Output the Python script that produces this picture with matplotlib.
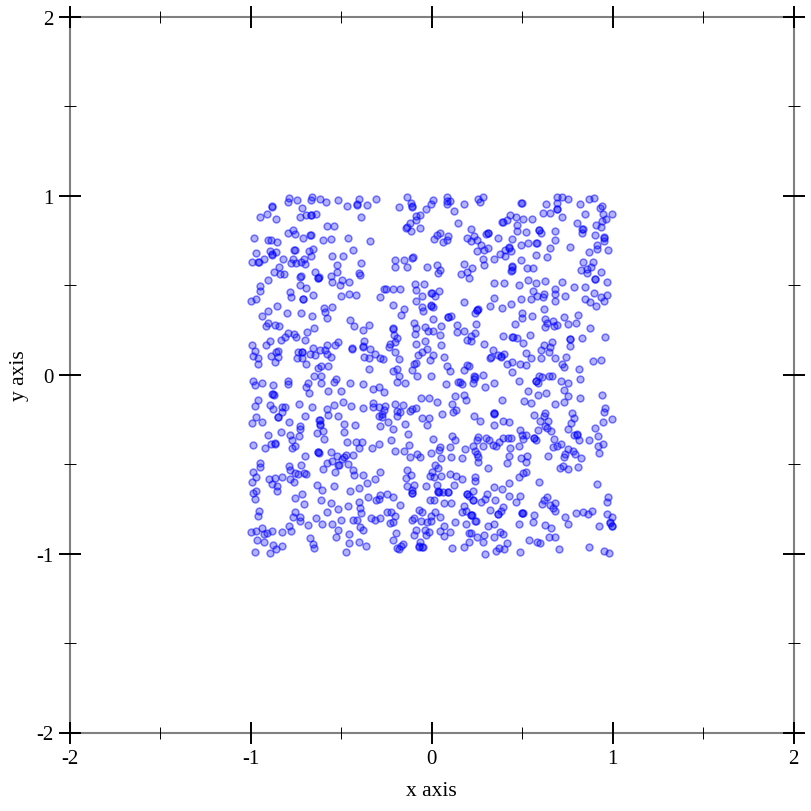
import matplotlib
matplotlib.use('Agg')
import matplotlib.pyplot as plt

# valores, por quadrante
pts_upper_left = [(-0.788,0.986),(-0.796,0.964),(-0.748,0.973),(-0.663,0.995),(-0.670,0.977),(-0.617,0.980),(-0.587,0.967),(-0.516,0.977),(-0.403,0.980),(-0.411,0.949),(-0.470,0.940),(-0.361,0.947),(-0.309,0.980),(-0.886,0.938),(-0.720,0.930),(-0.912,0.899),(-0.948,0.878),(-0.864,0.869),(-0.729,0.882),(-0.698,0.891),(-0.670,0.891),(-0.641,0.899),(-0.392,0.882),(-0.578,0.828),(-0.543,0.831),(-0.768,0.807),(-0.797,0.789),(-0.757,0.785),(-0.713,0.766),(-0.672,0.779),(-0.982,0.766),(-0.904,0.751),(-0.891,0.750),(-0.856,0.742),(-0.602,0.750),(-0.556,0.759),(-0.462,0.766),(-0.344,0.744),(-0.761,0.696),(-0.657,0.701),(-0.678,0.692),(-0.435,0.697),(-0.974,0.679),(-0.895,0.692),(-0.886,0.671),(-0.862,0.686),(-0.551,0.664),(-0.490,0.664),(-0.669,0.662),(-0.993,0.628),(-0.959,0.630),(-0.930,0.645),(-0.820,0.645),(-0.770,0.645),(-0.781,0.623),(-0.751,0.621),(-0.722,0.627),(-0.707,0.645),(-0.703,0.617),(-0.525,0.610),(-0.394,0.621),(-0.845,0.604),(-0.873,0.574),(-0.842,0.561),(-0.816,0.561),(-0.525,0.574),(-0.645,0.571),(-0.556,0.552),(-0.403,0.565),(-0.396,0.554),(-0.727,0.547),(-0.628,0.541),(-0.906,0.526),(-0.552,0.517),(-0.494,0.530),(-0.459,0.520),(-0.505,0.502),(-0.729,0.502),(-0.698,0.485),(-0.952,0.496),(-0.952,0.466),(-0.785,0.463),(-0.779,0.433),(-0.657,0.446),(-0.503,0.440),(-0.457,0.448),(-0.420,0.446),(-0.713,0.420),(-0.974,0.420),(-0.998,0.412),(-0.858,0.386),(-0.551,0.377),(-0.595,0.372),(-0.591,0.349),(-0.908,0.355),(-0.939,0.327),(-0.801,0.347),(-0.724,0.345),(-0.663,0.327),(-0.578,0.319),(-0.453,0.306),(-0.429,0.271),(-0.346,0.277),(-0.379,0.250),(-0.904,0.290),(-0.919,0.273),(-0.866,0.277),(-0.847,0.269),(-0.652,0.258),(-0.692,0.239),(-0.797,0.234),(-0.762,0.228),(-0.814,0.209),(-0.751,0.209),(-0.836,0.191),(-0.700,0.193),(-0.895,0.189),(-0.915,0.163),(-0.993,0.163),(-0.980,0.133),(-0.989,0.105),(-0.963,0.092),(-0.961,0.059),(-0.376,0.185),(-0.381,0.157),(-0.519,0.180),(-0.536,0.165),(-0.582,0.165),(-0.659,0.146),(-0.617,0.139),(-0.593,0.137),(-0.442,0.144),(-0.341,0.144),(-0.238,0.152),(-0.284,0.433),(-0.267,0.480),(-0.256,0.480),(-0.214,0.480),(-0.175,0.481),(-0.094,0.509),(-0.044,0.507),(-0.088,0.474),(-0.087,0.414),(-0.052,0.437),(-0.002,0.455),(-0.006,0.385),(-0.217,0.388),(-0.153,0.368),(-0.169,0.331),(-0.055,0.379),(-0.048,0.357),(-0.101,0.290),(-0.090,0.258),(-0.092,0.228),(-0.037,0.264),(-0.020,0.243),(-0.217,0.256),(-0.210,0.224),(-0.190,0.202),(-0.206,0.182),(-0.230,0.169),(-0.037,0.189),(-0.088,0.169),(-0.028,0.142),(-0.057,0.128),(-0.079,0.109),(-0.011,0.083),(-0.179,0.087),(-0.203,0.129),(-0.271,0.085),(-0.287,0.092),(-0.315,0.115),(-0.374,0.098),(-0.346,0.092),(-0.346,0.033),(-0.214,0.021),(-0.192,0.034),(-0.112,0.027),(-0.101,0.059),(-0.090,0.064),(-0.628,0.036),(-0.615,0.049),(-0.573,0.049),(-0.694,0.059),(-0.862,0.124),(-0.853,0.133),(-0.853,0.096),(-0.891,0.105),(-0.869,0.068),(-0.738,0.128),(-0.720,0.124),(-0.744,0.092),(-0.715,0.092),(-0.674,0.115),(-0.646,0.107),(-0.578,0.115),(-0.560,0.100),(-0.138,0.995),(-0.116,0.958),(-0.110,0.938),(-0.180,0.936),(-0.087,0.884),(-0.063,0.893),(-0.035,0.928),(-0.006,0.956),(-0.090,0.863),(-0.122,0.848),(-0.142,0.822),(-0.116,0.802),(-0.066,0.822),(-0.203,0.642),(-0.153,0.638),(-0.107,0.653),(-0.204,0.604),(-0.136,0.601),(-0.029,0.599)]

pts_upper_right = [(0.006,0.975),(0.081,0.990),(0.083,0.971),(0.083,0.953),(0.103,0.968),(0.177,0.954),(0.122,0.913),(0.256,0.984),(0.267,0.964),(0.285,0.993),(0.495,0.958),(0.689,0.990),(0.720,0.990),(0.750,0.979),(0.689,0.960),(0.632,0.953),(0.692,0.925),(0.615,0.904),(0.652,0.902),(0.720,0.878),(0.821,0.956),(0.866,0.982),(0.895,0.988),(0.932,0.930),(0.941,0.941),(0.845,0.897),(0.945,0.900),(0.994,0.897),(0.963,0.871),(0.943,0.856),(0.936,0.826),(0.906,0.837),(0.801,0.845),(0.832,0.813),(0.832,0.794),(0.145,0.845),(0.431,0.893),(0.466,0.878),(0.503,0.869),(0.551,0.871),(0.389,0.850),(0.416,0.863),(0.471,0.837),(0.214,0.813),(0.311,0.789),(0.298,0.785),(0.591,0.807),(0.606,0.789),(0.468,0.802),(0.523,0.798),(0.681,0.802),(0.044,0.789),(0.031,0.779),(0.013,0.757),(0.090,0.772),(0.081,0.751),(0.063,0.742),(0.197,0.761),(0.232,0.772),(0.219,0.744),(0.252,0.751),(0.366,0.766),(0.442,0.757),(0.904,0.779),(0.950,0.766),(0.950,0.748),(0.680,0.753),(0.274,0.727),(0.308,0.707),(0.247,0.690),(0.287,0.694),(0.495,0.725),(0.534,0.738),(0.578,0.733),(0.652,0.705),(0.762,0.712),(0.913,0.723),(0.915,0.701),(0.972,0.699),(0.871,0.684),(0.425,0.710),(0.403,0.697),(0.435,0.690),(0.379,0.675),(0.405,0.664),(0.575,0.668),(0.639,0.656),(0.284,0.647),(0.341,0.647),(0.289,0.610),(0.490,0.638),(0.175,0.617),(0.223,0.595),(0.029,0.610),(0.044,0.586),(0.035,0.567),(0.162,0.563),(0.193,0.571),(0.206,0.539),(0.442,0.604),(0.440,0.580),(0.525,0.595),(0.558,0.595),(0.838,0.632),(0.888,0.627),(0.877,0.604),(0.860,0.589),(0.827,0.582),(0.855,0.569),(0.936,0.571),(0.902,0.534),(0.969,0.520),(0.343,0.511),(0.401,0.513),(0.484,0.500),(0.532,0.528),(0.575,0.511),(0.628,0.524),(0.722,0.517),(0.783,0.491),(0.847,0.487),(0.558,0.468),(0.582,0.440),(0.621,0.450),(0.680,0.480),(0.678,0.448),(0.615,0.431),(0.678,0.414),(0.737,0.440),(0.495,0.422),(0.549,0.424),(0.343,0.426),(0.897,0.455),(0.967,0.446),(0.937,0.435),(0.950,0.412),(0.847,0.420),(0.875,0.407),(0.908,0.386),(0.000,0.457),(0.018,0.439),(0.039,0.465),(0.175,0.403),(0.436,0.396),(0.390,0.373),(0.322,0.381),(0.621,0.368),(0.247,0.360),(0.256,0.366),(0.238,0.342),(0.007,0.379),(0.087,0.321),(0.105,0.329),(0.007,0.310),(0.497,0.344),(0.497,0.318),(0.551,0.325),(0.733,0.320),(0.810,0.334),(0.626,0.312),(0.637,0.288),(0.670,0.301),(0.676,0.273),(0.694,0.275),(0.624,0.265),(0.755,0.282),(0.794,0.286),(0.873,0.260),(0.457,0.282),(0.245,0.284),(0.140,0.277),(0.238,0.230),(0.138,0.237),(0.175,0.243),(0.053,0.271),(0.007,0.245),(0.044,0.224),(0.215,0.213),(0.197,0.193),(0.215,0.189),(0.394,0.213),(0.444,0.208),(0.471,0.202),(0.505,0.176),(0.541,0.221),(0.764,0.198),(0.766,0.159),(0.829,0.202),(0.958,0.208),(0.663,0.182),(0.621,0.163),(0.654,0.152),(0.604,0.137),(0.646,0.124),(0.050,0.163),(0.289,0.170),(0.337,0.139),(0.523,0.120),(0.549,0.094),(0.602,0.094),(0.681,0.094),(0.744,0.098),(0.006,0.111),(0.066,0.101),(0.324,0.094),(0.368,0.109),(0.381,0.100),(0.398,0.113),(0.413,0.062),(0.442,0.070),(0.488,0.059),(0.519,0.051),(0.891,0.077),(0.934,0.081),(0.722,0.061),(0.731,0.044),(0.812,0.033),(0.083,0.046),(0.103,0.021),(0.192,0.055),(0.203,0.048),(0.175,0.025),(0.442,0.012)]

pts_lower_left = [(-0.991,-0.033),(-0.978,-0.057),(-0.939,-0.046),(-0.880,-0.057),(-0.796,-0.033),(-0.796,-0.055),(-0.683,-0.049),(-0.696,-0.068),(-0.678,-0.101),(-0.652,-0.010),(-0.610,-0.010),(-0.610,-0.047),(-0.532,-0.025),(-0.540,-0.040),(-0.576,-0.090),(-0.503,-0.090),(-0.455,-0.046),(-0.381,-0.051),(-0.326,-0.079),(-0.291,-0.070),(-0.267,-0.098),(-0.193,-0.040),(-0.151,-0.049),(-0.179,-0.010),(-0.081,-0.010),(-0.007,-0.010),(-0.882,-0.106),(-0.873,-0.113),(-0.963,-0.142),(-0.978,-0.178),(-0.897,-0.171),(-0.877,-0.195),(-0.831,-0.180),(-0.812,-0.180),(-0.831,-0.208),(-0.733,-0.165),(-0.661,-0.180),(-0.849,-0.236),(-0.972,-0.236),(-0.994,-0.271),(-0.941,-0.264),(-0.788,-0.264),(-0.700,-0.230),(-0.578,-0.195),(-0.543,-0.172),(-0.573,-0.223),(-0.521,-0.232),(-0.492,-0.152),(-0.446,-0.176),(-0.379,-0.185),(-0.328,-0.159),(-0.326,-0.183),(-0.291,-0.182),(-0.260,-0.178),(-0.265,-0.196),(-0.278,-0.219),(-0.293,-0.232),(-0.274,-0.239),(-0.201,-0.163),(-0.160,-0.172),(-0.195,-0.202),(-0.177,-0.208),(-0.192,-0.230),(-0.122,-0.206),(-0.107,-0.193),(-0.085,-0.189),(-0.061,-0.133),(-0.017,-0.133),(-0.053,-0.243),(-0.013,-0.245),(-0.029,-0.282),(-0.245,-0.264),(-0.289,-0.286),(-0.619,-0.252),(-0.617,-0.277),(-0.729,-0.290),(-0.729,-0.305),(-0.483,-0.277),(-0.423,-0.282),(-0.149,-0.277),(-0.217,-0.305),(-0.133,-0.331),(-0.834,-0.323),(-0.906,-0.336),(-0.785,-0.336),(-0.733,-0.345),(-0.604,-0.316),(-0.634,-0.325),(-0.484,-0.323),(-0.597,-0.359),(-0.775,-0.368),(-0.757,-0.398),(-0.775,-0.409),(-0.989,-0.396),(-0.924,-0.411),(-0.889,-0.387),(-0.867,-0.385),(-0.471,-0.379),(-0.418,-0.375),(-0.385,-0.379),(-0.403,-0.409),(-0.331,-0.409),(-0.293,-0.390),(-0.227,-0.368),(-0.125,-0.392),(-0.204,-0.426),(-0.155,-0.427),(-0.081,-0.444),(-0.063,-0.459),(-0.120,-0.459),(-0.006,-0.439),(-0.628,-0.435),(-0.703,-0.454),(-0.558,-0.435),(-0.527,-0.455),(-0.436,-0.448),(-0.486,-0.459),(-0.475,-0.450),(-0.499,-0.472),(-0.554,-0.481),(-0.578,-0.493),(-0.517,-0.504),(-0.462,-0.500),(-0.950,-0.493),(-0.952,-0.517),(-0.989,-0.543),(-0.792,-0.509),(-0.724,-0.505),(-0.785,-0.532),(-0.604,-0.530),(-0.755,-0.550),(-0.738,-0.556),(-0.707,-0.552),(-0.694,-0.556),(-0.538,-0.543),(-0.438,-0.532),(-0.429,-0.562),(-0.285,-0.545),(-0.381,-0.563),(-0.315,-0.582),(-0.359,-0.603),(-0.972,-0.571),(-0.994,-0.599),(-0.899,-0.582),(-0.866,-0.580),(-0.827,-0.573),(-0.786,-0.582),(-0.764,-0.599),(-0.882,-0.612),(-0.858,-0.625),(-0.634,-0.617),(-0.606,-0.643),(-0.540,-0.623),(-0.405,-0.632),(-0.455,-0.653),(-0.972,-0.649),(-0.987,-0.662),(-0.978,-0.695),(-0.858,-0.653),(-0.759,-0.690),(-0.715,-0.668),(-0.709,-0.722),(-0.611,-0.699),(-0.560,-0.720),(-0.462,-0.735),(-0.352,-0.685),(-0.311,-0.699),(-0.287,-0.673),(-0.291,-0.697),(-0.247,-0.668),(-0.212,-0.686),(-0.175,-0.731),(-0.140,-0.534),(-0.116,-0.563),(-0.142,-0.578),(-0.138,-0.621),(-0.101,-0.619),(-0.112,-0.643),(-0.109,-0.662),(-0.033,-0.625),(-0.011,-0.701),(-0.011,-0.565),(-0.403,-0.714),(-0.398,-0.744),(-0.389,-0.772),(-0.578,-0.766),(-0.517,-0.752),(-0.955,-0.761),(-0.961,-0.792),(-0.757,-0.770),(-0.770,-0.794),(-0.729,-0.794),(-0.729,-0.819),(-0.641,-0.802),(-0.501,-0.815),(-0.435,-0.811),(-0.412,-0.811),(-0.337,-0.800),(-0.315,-0.811),(-0.284,-0.800),(-0.249,-0.770),(-0.225,-0.766),(-0.204,-0.791),(-0.234,-0.831),(-0.214,-0.822),(-0.070,-0.755),(-0.052,-0.766),(-0.101,-0.800),(-0.112,-0.811),(-0.059,-0.819),(-0.029,-0.826),(-0.002,-0.817),(-0.006,-0.789),(-0.683,-0.843),(-0.606,-0.834),(-0.554,-0.837),(-0.788,-0.845),(-0.941,-0.856),(-0.781,-0.876),(-0.827,-0.878),(-0.886,-0.874),(-1.000,-0.882),(-0.972,-0.876),(-0.926,-0.891),(-0.910,-0.887),(-0.398,-0.850),(-0.379,-0.871),(-0.516,-0.869),(-0.530,-0.906),(-0.459,-0.889),(-0.199,-0.885),(-0.217,-0.923),(-0.085,-0.871),(-0.096,-0.897),(-0.037,-0.869),(-0.035,-0.897),(-0.018,-0.882),(-0.965,-0.923),(-0.928,-0.934),(-0.880,-0.953),(-0.829,-0.956),(-0.864,-0.977),(-0.980,-0.990),(-0.895,-0.999),(-0.672,-0.913),(-0.656,-0.945),(-0.654,-0.969),(-0.457,-0.941),(-0.400,-0.934),(-0.365,-0.960),(-0.475,-0.990),(-0.158,-0.945),(-0.173,-0.960),(-0.195,-0.971),(-0.182,-0.975),(-0.063,-0.938),(-0.070,-0.960),(-0.048,-0.962),(-0.057,-0.966)]

pts_lower_right = [(0.234,-0.010),(0.234,-0.025),(0.285,-0.001),(0.142,-0.040),(0.157,-0.040),(0.169,-0.055),(0.077,-0.051),(0.229,-0.047),(0.295,-0.070),(0.341,-0.047),(0.482,-0.034),(0.573,-0.036),(0.584,-0.049),(0.593,-0.010),(0.610,-0.016),(0.646,-0.008),(0.663,-0.007),(0.713,-0.034),(0.750,-0.046),(0.820,-0.023),(0.529,-0.094),(0.586,-0.114),(0.632,-0.103),(0.729,-0.088),(0.753,-0.122),(0.820,-0.131),(0.939,-0.113),(0.177,-0.113),(0.127,-0.122),(0.188,-0.144),(0.031,-0.155),(0.387,-0.144),(0.512,-0.146),(0.549,-0.161),(0.678,-0.167),(0.729,-0.155),(0.112,-0.167),(0.116,-0.209),(0.134,-0.198),(0.057,-0.221),(0.959,-0.185),(0.954,-0.209),(0.234,-0.230),(0.267,-0.258),(0.343,-0.217),(0.344,-0.280),(0.396,-0.258),(0.429,-0.264),(0.564,-0.226),(0.624,-0.215),(0.619,-0.230),(0.597,-0.262),(0.643,-0.260),(0.628,-0.286),(0.635,-0.301),(0.657,-0.316),(0.772,-0.215),(0.785,-0.243),(0.768,-0.269),(0.755,-0.304),(0.947,-0.267),(0.994,-0.250),(0.904,-0.301),(0.919,-0.342),(0.867,-0.368),(0.006,-0.360),(0.486,-0.310),(0.584,-0.312),(0.499,-0.336),(0.523,-0.338),(0.505,-0.360),(0.801,-0.333),(0.785,-0.336),(0.816,-0.364),(0.562,-0.355),(0.573,-0.364),(0.674,-0.360),(0.109,-0.345),(0.129,-0.366),(0.256,-0.349),(0.247,-0.364),(0.298,-0.353),(0.315,-0.368),(0.370,-0.375),(0.394,-0.357),(0.422,-0.357),(0.440,-0.357),(0.230,-0.401),(0.284,-0.401),(0.339,-0.394),(0.352,-0.401),(0.182,-0.414),(0.431,-0.412),(0.481,-0.401),(0.672,-0.407),(0.694,-0.401),(0.713,-0.388),(0.750,-0.418),(0.781,-0.429),(0.790,-0.442),(0.738,-0.446),(0.729,-0.463),(0.825,-0.467),(0.948,-0.388),(0.919,-0.401),(0.923,-0.437),(0.044,-0.407),(0.039,-0.422),(0.099,-0.407),(0.048,-0.468),(0.107,-0.463),(0.164,-0.465),(0.241,-0.426),(0.249,-0.444),(0.256,-0.463),(0.254,-0.489),(0.425,-0.453),(0.416,-0.494),(0.492,-0.467),(0.525,-0.453),(0.523,-0.489),(0.643,-0.455),(0.311,-0.521),(0.726,-0.509),(0.711,-0.521),(0.755,-0.530),(0.807,-0.519),(0.020,-0.504),(0.035,-0.522),(0.002,-0.543),(0.013,-0.575),(0.048,-0.569),(0.098,-0.556),(0.136,-0.569),(0.168,-0.586),(0.241,-0.574),(0.241,-0.597),(0.482,-0.571),(0.505,-0.552),(0.521,-0.547),(0.593,-0.599),(0.915,-0.612),(0.425,-0.604),(0.121,-0.615),(0.031,-0.619),(0.035,-0.654),(0.063,-0.658),(0.090,-0.654),(0.225,-0.653),(0.192,-0.668),(0.206,-0.677),(0.227,-0.701),(0.341,-0.630),(0.387,-0.640),(0.304,-0.666),(0.293,-0.696),(0.273,-0.714),(0.348,-0.703),(0.425,-0.681),(0.486,-0.677),(0.464,-0.711),(0.621,-0.699),(0.635,-0.686),(0.610,-0.725),(0.652,-0.729),(0.683,-0.718),(0.670,-0.748),(0.683,-0.765),(0.972,-0.685),(0.968,-0.714),(0.796,-0.772),(0.834,-0.766),(0.862,-0.777),(0.884,-0.765),(0.011,-0.703),(0.068,-0.718),(0.107,-0.718),(0.179,-0.733),(0.164,-0.770),(0.190,-0.761),(0.020,-0.766),(0.044,-0.794),(0.219,-0.785),(0.241,-0.817),(0.324,-0.755),(0.394,-0.740),(0.381,-0.761),(0.366,-0.777),(0.501,-0.774),(0.562,-0.787),(0.558,-0.826),(0.737,-0.794),(0.750,-0.833),(0.969,-0.779),(0.998,-0.796),(0.985,-0.826),(0.993,-0.845),(0.926,-0.845),(0.624,-0.841),(0.657,-0.858),(0.484,-0.835),(0.127,-0.822),(0.068,-0.845),(0.186,-0.837),(0.311,-0.845),(0.344,-0.834),(0.046,-0.876),(0.098,-0.882),(0.068,-0.904),(0.204,-0.884),(0.219,-0.885),(0.250,-0.908),(0.291,-0.895),(0.343,-0.906),(0.378,-0.880),(0.392,-0.893),(0.203,-0.934),(0.284,-0.938),(0.413,-0.940),(0.536,-0.923),(0.580,-0.934),(0.599,-0.940),(0.646,-0.906),(0.678,-0.906),(0.109,-0.967),(0.177,-0.962),(0.370,-0.971),(0.354,-0.984),(0.400,-0.977),(0.295,-1.000),(0.488,-0.993),(0.702,-0.973),(0.869,-0.965),(0.950,-0.988),(0.978,-0.997)]

# pontos sobrepostos (aparecem mais escuros)
pts_overlap = [(-0.411,0.951),(-0.884,0.940),(-0.668,0.893),(-0.670,0.781),(-0.759,0.698),(-0.884,0.673),(-0.957,0.632),(-0.725,0.549),(-0.626,0.543),(-0.630,0.539),(-0.711,0.422),(-0.379,0.159),(-0.440,0.146),(-0.718,0.126),(-0.215,0.258),(-0.108,0.940),(-0.140,0.824),(-0.105,0.655),(-0.004,0.387),
    (0.497,0.960),(0.694,0.927),(0.834,0.815),(0.393,0.852),(0.313,0.791),(0.593,0.809),(0.952,0.768),(0.580,0.735),(0.427,0.712),(0.444,0.606),(0.442,0.582),(0.904,0.536),(0.249,0.362),(0.089,0.323),(0.446,0.210),(0.766,0.200),(0.326,0.096),(0.383,0.102),
    (-0.851,-0.238),(-0.621,-0.254),(-0.619,-0.279),(-0.880,-0.108),(-0.869,-0.387),(-0.626,-0.437),(-0.630,-0.433),(-0.515,-0.506),(-0.107,-0.664),(-0.072,-0.962),
    (0.236,-0.012),(0.575,-0.038),(0.345,-0.219),(0.341,-0.215),(0.803,-0.335),(0.564,-0.357),(0.037,-0.656),(0.033,-0.652),(0.092,-0.656),(0.194,-0.670),(0.229,-0.703),(0.221,-0.787),(0.217,-0.783),(0.243,-0.819),(0.368,-0.779),(0.503,-0.776),(0.499,-0.772),(0.987,-0.828),(0.995,-0.847)]

x_ticks_major = [-2, -1, 0, 1, 2]
y_ticks_major = [-2, -1, 0, 1, 2]
ticks_minor = [-1.5, -0.5, 0.5, 1.5]
tick_labels = ['-2', '-1', '0', '1', '2']

plt.rcParams['font.family'] = ['Liberation Serif']

fig = plt.figure(figsize=(8.12, 8.12), dpi=100)
ax = fig.add_axes([70 / 812, 1 - 733.5 / 812, 723.7 / 812, 715.8 / 812])

todos = pts_upper_left + pts_upper_right + pts_lower_left + pts_lower_right + pts_overlap
xs = [p[0] for p in todos]
ys = [p[1] for p in todos]
ax.scatter(xs, ys, s=24, facecolors=(0, 0, 1, 0.3), edgecolors=(0, 0, 1, 0.5), linewidths=1.1, zorder=3)

ax.set_xlim(-2, 2)
ax.set_ylim(-2, 2)
ax.set_xticks(x_ticks_major)
ax.set_yticks(y_ticks_major)
ax.set_xticklabels(tick_labels)
ax.set_yticklabels(tick_labels)
ax.set_xticks(ticks_minor, minor=True)
ax.set_yticks(ticks_minor, minor=True)
ax.tick_params(which='major', direction='inout', length=15.5, width=1.4, color='black',
               top=True, right=True, labelsize=15, pad=4)
ax.tick_params(which='minor', direction='inout', length=8, width=0.7, color='black',
               top=True, right=True)

for lado in ax.spines.values():
    lado.set_color('#808080')
    lado.set_linewidth(1.5)
    lado.set_zorder(1)

ax.set_xlabel('x axis', fontsize=15.5, labelpad=9.5)
ax.set_ylabel('y axis', fontsize=15.5, labelpad=5)

fig.savefig('out.png', dpi=100)
